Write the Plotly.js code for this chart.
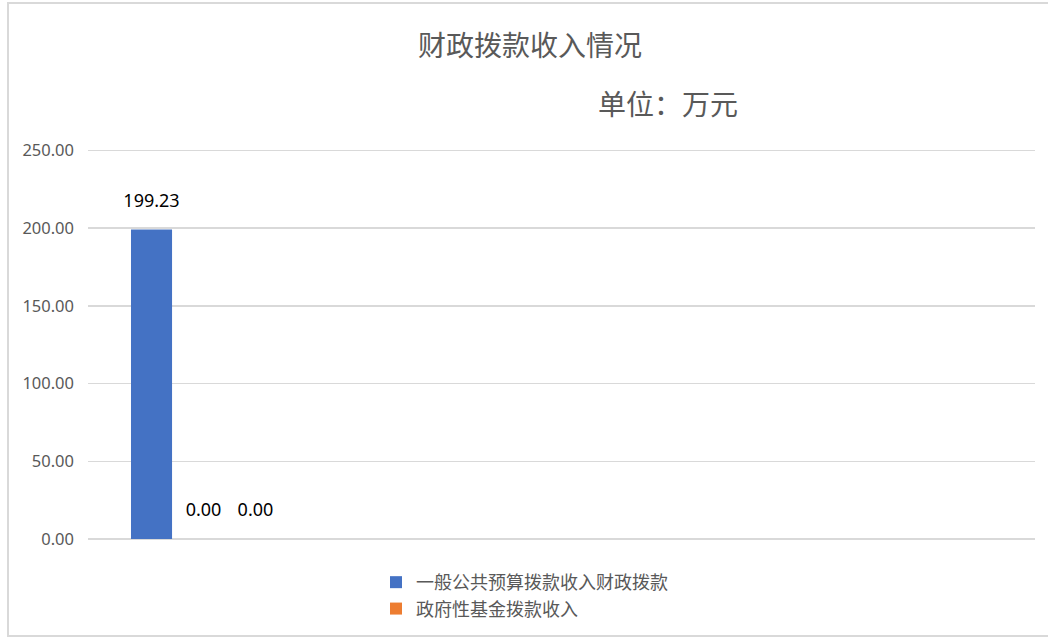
<!DOCTYPE html>
<html>
<head>
<meta charset="utf-8">
<script src="https://cdn.plot.ly/plotly-3.0.1.min.js"></script>
<style>
  html, body { margin: 0; padding: 0; background: #ffffff; overflow: hidden; }
  #wrap { position: relative; width: 1048px; height: 637px; }
  #chart { position: absolute; left: 0; top: 0; width: 1048px; height: 637px; }
  #frame { position: absolute; left: 7px; top: 2px; width: 1100px; height: 631px;
           border: 2px solid #d9d9d9; pointer-events: none; }
</style>
</head>
<body>
<div id="wrap">
  <div id="chart"></div>
  <div id="frame"></div>
</div>
<script>
// ---- data ----
const categories = ["财政拨款收入"];
const seriesNames = ["一般公共预算拨款收入财政拨款", "政府性基金拨款收入", "其他拨款收入"];
const generalBudget = [199.23];
const governmentFund = [0.00];
const otherFund = [0.00];
const yTickValues = [0, 50, 100, 150, 200, 250];
const titleText = "财政拨款收入情况";
const unitText = "单位：万元";

// ---- styles ----
const seriesColors = ["#4472C4", "#ED7D31", "#A5A5A5"];
const numFont = "Noto Sans, Liberation Sans, sans-serif";
const cjkFont = "Noto Sans CJK SC, sans-serif";

function barTrace(name, values, color, showLegend) {
  return {
    type: "bar",
    name: name,
    x: categories,
    y: values,
    marker: { color: color },
    text: values.map(v => "<span style='font-size:18px'>" + v.toFixed(2) + "</span><br> "),
    textposition: "outside",
    constraintext: "none",
    cliponaxis: false,
    textfont: { family: numFont, size: 12, color: "#000000" },
    showlegend: showLegend,
    hoverinfo: "name+y"
  };
}

const data = [
  barTrace(seriesNames[0], generalBudget, seriesColors[0], true),
  barTrace(seriesNames[1], governmentFund, seriesColors[1], true),
  barTrace(seriesNames[2], otherFund, seriesColors[2], false)
];

const layout = {
  width: 1048,
  height: 637,
  margin: { l: 88, r: 13, t: 148.5, b: 98, autoexpand: false },
  paper_bgcolor: "#ffffff",
  plot_bgcolor: "#ffffff",
  barmode: "group",
  bargap: 0.325,
  bargroupgap: 0.21,
  title: {
    text: titleText,
    x: 530 / 1048, xref: "container", xanchor: "center",
    y: 1 - 46 / 637, yref: "container", yanchor: "middle",
    font: { family: cjkFont, size: 28, color: "#595959" }
  },
  annotations: [{
    text: unitText,
    xref: "paper", yref: "paper",
    x: (668 - 88) / 947, y: (539 - 102) / 390.5,
    xanchor: "center", yanchor: "middle",
    showarrow: false,
    font: { family: cjkFont, size: 28, color: "#595959" }
  }],
  xaxis: {
    type: "category",
    range: [-0.5, 3.6],
    showticklabels: false,
    showgrid: false,
    zeroline: false,
    showline: false,
    ticks: ""
  },
  yaxis: {
    range: [0, 251],
    tickvals: yTickValues,
    tickformat: ".2f",
    showgrid: true,
    gridcolor: "#d9d9d9",
    gridwidth: 1.5,
    zeroline: true,
    zerolinecolor: "#d9d9d9",
    zerolinewidth: 1.5,
    showline: false,
    ticks: "",
    ticklabelstandoff: 13,
    tickfont: { family: numFont, size: 16.5, color: "#595959" }
  },
  legend: {
    orientation: "v",
    x: (376 - 88) / 947, xanchor: "left",
    y: (539 - 564) / 390.5, yanchor: "top",
    font: { family: cjkFont, size: 18, color: "#595959" },
    bgcolor: "rgba(0,0,0,0)",
    tracegroupgap: 0
  },
  showlegend: true
};

Plotly.newPlot("chart", data, layout, { displayModeBar: false, staticPlot: true });
</script>
</body>
</html>
